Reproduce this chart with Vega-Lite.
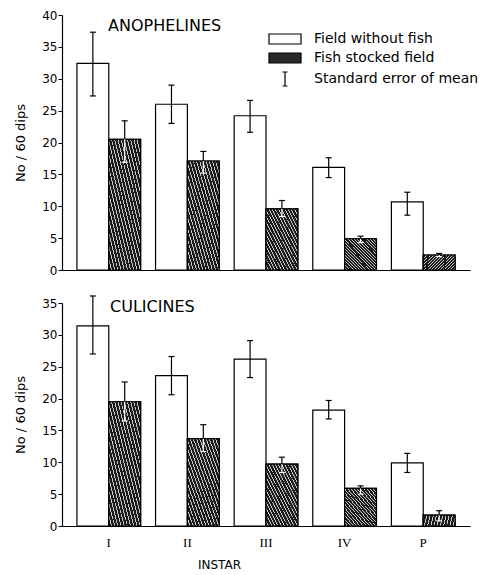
{
  "$schema": "https://vega.github.io/schema/vega-lite/v6.json",
  "background": "white",
  "padding": {"left": 14, "top": 9, "right": 0, "bottom": 0},
  "config": {
    "view": {"stroke": null},
    "font": "DejaVu Sans",
    "axis": {"domainColor": "black", "tickColor": "black", "labelColor": "black", "titleColor": "black", "grid": false, "labelOverlap": false},
    "title": {"color": "black"}
  },
  "datasets": {
    "anoph": [
      {"stage": "I", "series": "Field without fish", "mean": 32.4, "lo": 27.3, "hi": 37.3},
      {"stage": "I", "series": "Fish stocked field", "mean": 20.5, "lo": 16.9, "hi": 23.4},
      {"stage": "II", "series": "Field without fish", "mean": 26.0, "lo": 23.0, "hi": 29.0},
      {"stage": "II", "series": "Fish stocked field", "mean": 17.1, "lo": 15.2, "hi": 18.6},
      {"stage": "III", "series": "Field without fish", "mean": 24.2, "lo": 21.6, "hi": 26.6},
      {"stage": "III", "series": "Fish stocked field", "mean": 9.6, "lo": 8.4, "hi": 10.9},
      {"stage": "IV", "series": "Field without fish", "mean": 16.1, "lo": 14.5, "hi": 17.6},
      {"stage": "IV", "series": "Fish stocked field", "mean": 4.9, "lo": 4.3, "hi": 5.3},
      {"stage": "P", "series": "Field without fish", "mean": 10.7, "lo": 8.6, "hi": 12.2},
      {"stage": "P", "series": "Fish stocked field", "mean": 2.35, "lo": 2.1, "hi": 2.6}
    ],
    "culic": [
      {"stage": "I", "series": "Field without fish", "mean": 31.4, "lo": 27.0, "hi": 36.1},
      {"stage": "I", "series": "Fish stocked field", "mean": 19.5, "lo": 16.5, "hi": 22.6},
      {"stage": "II", "series": "Field without fish", "mean": 23.6, "lo": 20.6, "hi": 26.6},
      {"stage": "II", "series": "Fish stocked field", "mean": 13.7, "lo": 11.7, "hi": 15.9},
      {"stage": "III", "series": "Field without fish", "mean": 26.2, "lo": 23.3, "hi": 29.1},
      {"stage": "III", "series": "Fish stocked field", "mean": 9.7, "lo": 8.4, "hi": 10.8},
      {"stage": "IV", "series": "Field without fish", "mean": 18.2, "lo": 16.8, "hi": 19.7},
      {"stage": "IV", "series": "Fish stocked field", "mean": 5.9, "lo": 5.0, "hi": 6.3},
      {"stage": "P", "series": "Field without fish", "mean": 9.9, "lo": 8.4, "hi": 11.4},
      {"stage": "P", "series": "Fish stocked field", "mean": 1.7, "lo": 0.8, "hi": 2.4}
    ]
  },
  "spacing": 19,
  "resolve": {"scale": {"y": "independent", "fill": "independent"}, "legend": {"fill": "independent"}},
  "vconcat": [
    {
      "width": 408,
      "height": 255,
      "data": {"name": "anoph"},
      "title": {"text": "ANOPHELINES", "anchor": "start", "frame": "group", "fontSize": 16, "fontWeight": "normal", "font": "DejaVu Sans", "dx": 46, "dy": 33, "baseline": "middle", "offset": 0},
      "encoding": {
        "x": {"field": "stage", "type": "nominal", "sort": ["I", "II", "III", "IV", "P"], "scale": {"paddingInner": 0.19, "paddingOuter": 0.19}, "axis": {"labels": false, "ticks": false, "title": null, "domainWidth": 1.2}},
        "xOffset": {"field": "series", "type": "nominal", "scale": {"domain": ["Field without fish", "Fish stocked field"], "paddingInner": 0, "paddingOuter": 0}}
      },
      "layer": [
        {
          "mark": {"type": "bar", "stroke": "black", "strokeWidth": 1.2},
          "encoding": {
            "y": {"field": "mean", "type": "quantitative", "scale": {"domain": [0, 40], "nice": false}, "axis": {"values": [0, 5, 10, 15, 20, 25, 30, 35, 40], "tickCount": 9, "title": "No / 60 dips", "titleFontSize": 13, "titleFontWeight": "normal", "titlePadding": 14, "labelFontSize": 12, "tickSize": 4, "labelPadding": 1, "domainWidth": 1.2}},
            "fill": {
              "field": "series", "type": "nominal",
              "scale": {"domain": ["Field without fish", "Fish stocked field", "Standard error of mean"], "range": ["white", "#2a2a2a", "black"]},
              "legend": {
                "title": null, "orient": "none", "legendX": 216, "legendY": 17, "padding": 0,
                "labelFontSize": 14, "labelFont": "DejaVu Sans", "labelColor": "black", "labelOffset": 22, "labelLimit": 400,
                "symbolSize": 100, "symbolStrokeColor": "black", "symbolStrokeWidth": 1.2, "rowPadding": 3,
                "encode": {"symbols": {"update": {"shape": {"signal": "datum.value === 'Standard error of mean' ? 'M0,-1.4V1.4M-0.5,-1.4H0.5M-0.5,1.4H0.5' : 'M-3.2,-1H3.2V1H-3.2Z'"}}}}
              }
            }
          }
        },
        {
          "transform": [{"filter": "datum.series === 'Fish stocked field'"}],
          "mark": {"type": "bar", "stroke": "black", "strokeWidth": 1.2, "fill": {"gradient": "linear", "x1": 0, "y1": 1, "x2": 1, "y2": 0, "stops": [
            {"offset": 0, "color": "#1a1a1a"}, {"offset": 0.035, "color": "#1a1a1a"}, {"offset": 0.035, "color": "#c8c8c8"}, {"offset": 0.05, "color": "#c8c8c8"},
            {"offset": 0.05, "color": "#1a1a1a"}, {"offset": 0.085, "color": "#1a1a1a"}, {"offset": 0.085, "color": "#c8c8c8"}, {"offset": 0.1, "color": "#c8c8c8"},
            {"offset": 0.1, "color": "#1a1a1a"}, {"offset": 0.135, "color": "#1a1a1a"}, {"offset": 0.135, "color": "#c8c8c8"}, {"offset": 0.15, "color": "#c8c8c8"},
            {"offset": 0.15, "color": "#1a1a1a"}, {"offset": 0.185, "color": "#1a1a1a"}, {"offset": 0.185, "color": "#c8c8c8"}, {"offset": 0.2, "color": "#c8c8c8"},
            {"offset": 0.2, "color": "#1a1a1a"}, {"offset": 0.235, "color": "#1a1a1a"}, {"offset": 0.235, "color": "#c8c8c8"}, {"offset": 0.25, "color": "#c8c8c8"},
            {"offset": 0.25, "color": "#1a1a1a"}, {"offset": 0.285, "color": "#1a1a1a"}, {"offset": 0.285, "color": "#c8c8c8"}, {"offset": 0.3, "color": "#c8c8c8"},
            {"offset": 0.3, "color": "#1a1a1a"}, {"offset": 0.335, "color": "#1a1a1a"}, {"offset": 0.335, "color": "#c8c8c8"}, {"offset": 0.35, "color": "#c8c8c8"},
            {"offset": 0.35, "color": "#1a1a1a"}, {"offset": 0.385, "color": "#1a1a1a"}, {"offset": 0.385, "color": "#c8c8c8"}, {"offset": 0.4, "color": "#c8c8c8"},
            {"offset": 0.4, "color": "#1a1a1a"}, {"offset": 0.435, "color": "#1a1a1a"}, {"offset": 0.435, "color": "#c8c8c8"}, {"offset": 0.45, "color": "#c8c8c8"},
            {"offset": 0.45, "color": "#1a1a1a"}, {"offset": 0.485, "color": "#1a1a1a"}, {"offset": 0.485, "color": "#c8c8c8"}, {"offset": 0.5, "color": "#c8c8c8"},
            {"offset": 0.5, "color": "#1a1a1a"}, {"offset": 0.535, "color": "#1a1a1a"}, {"offset": 0.535, "color": "#c8c8c8"}, {"offset": 0.55, "color": "#c8c8c8"},
            {"offset": 0.55, "color": "#1a1a1a"}, {"offset": 0.585, "color": "#1a1a1a"}, {"offset": 0.585, "color": "#c8c8c8"}, {"offset": 0.6, "color": "#c8c8c8"},
            {"offset": 0.6, "color": "#1a1a1a"}, {"offset": 0.635, "color": "#1a1a1a"}, {"offset": 0.635, "color": "#c8c8c8"}, {"offset": 0.65, "color": "#c8c8c8"},
            {"offset": 0.65, "color": "#1a1a1a"}, {"offset": 0.685, "color": "#1a1a1a"}, {"offset": 0.685, "color": "#c8c8c8"}, {"offset": 0.7, "color": "#c8c8c8"},
            {"offset": 0.7, "color": "#1a1a1a"}, {"offset": 0.735, "color": "#1a1a1a"}, {"offset": 0.735, "color": "#c8c8c8"}, {"offset": 0.75, "color": "#c8c8c8"},
            {"offset": 0.75, "color": "#1a1a1a"}, {"offset": 0.785, "color": "#1a1a1a"}, {"offset": 0.785, "color": "#c8c8c8"}, {"offset": 0.8, "color": "#c8c8c8"},
            {"offset": 0.8, "color": "#1a1a1a"}, {"offset": 0.835, "color": "#1a1a1a"}, {"offset": 0.835, "color": "#c8c8c8"}, {"offset": 0.85, "color": "#c8c8c8"},
            {"offset": 0.85, "color": "#1a1a1a"}, {"offset": 0.885, "color": "#1a1a1a"}, {"offset": 0.885, "color": "#c8c8c8"}, {"offset": 0.9, "color": "#c8c8c8"},
            {"offset": 0.9, "color": "#1a1a1a"}, {"offset": 0.935, "color": "#1a1a1a"}, {"offset": 0.935, "color": "#c8c8c8"}, {"offset": 0.95, "color": "#c8c8c8"},
            {"offset": 0.95, "color": "#1a1a1a"}, {"offset": 0.985, "color": "#1a1a1a"}, {"offset": 0.985, "color": "#c8c8c8"}, {"offset": 1, "color": "#c8c8c8"}
          ]}},
          "encoding": {"y": {"field": "mean", "type": "quantitative", "axis": {"values": [0, 5, 10, 15, 20, 25, 30, 35, 40], "tickCount": 9, "title": "No / 60 dips", "titleFontSize": 13, "titleFontWeight": "normal", "titlePadding": 14, "labelFontSize": 12, "tickSize": 4, "labelPadding": 1, "domainWidth": 1.2}}}
        },
        {
          "mark": {"type": "rule", "stroke": "black", "strokeWidth": 1.2},
          "encoding": {"y": {"field": "mean", "type": "quantitative", "axis": {"values": [0, 5, 10, 15, 20, 25, 30, 35, 40], "tickCount": 9, "title": "No / 60 dips", "titleFontSize": 13, "titleFontWeight": "normal", "titlePadding": 14, "labelFontSize": 12, "tickSize": 4, "labelPadding": 1, "domainWidth": 1.2}}, "y2": {"field": "hi"}}
        },
        {
          "mark": {"type": "rule", "strokeWidth": 1.2},
          "encoding": {"y": {"field": "lo", "type": "quantitative", "axis": {"values": [0, 5, 10, 15, 20, 25, 30, 35, 40], "tickCount": 9, "title": "No / 60 dips", "titleFontSize": 13, "titleFontWeight": "normal", "titlePadding": 14, "labelFontSize": 12, "tickSize": 4, "labelPadding": 1, "domainWidth": 1.2}}, "y2": {"field": "mean"}, "stroke": {"condition": {"test": "datum.series === 'Fish stocked field'", "value": "white"}, "value": "black"}}
        },
        {
          "mark": {"type": "tick", "color": "black", "size": 6, "thickness": 1.2, "opacity": 1},
          "encoding": {"y": {"field": "hi", "type": "quantitative", "axis": {"values": [0, 5, 10, 15, 20, 25, 30, 35, 40], "tickCount": 9, "title": "No / 60 dips", "titleFontSize": 13, "titleFontWeight": "normal", "titlePadding": 14, "labelFontSize": 12, "tickSize": 4, "labelPadding": 1, "domainWidth": 1.2}}}
        },
        {
          "mark": {"type": "tick", "size": 6, "thickness": 1.2, "opacity": 1},
          "encoding": {"y": {"field": "lo", "type": "quantitative", "axis": {"values": [0, 5, 10, 15, 20, 25, 30, 35, 40], "tickCount": 9, "title": "No / 60 dips", "titleFontSize": 13, "titleFontWeight": "normal", "titlePadding": 14, "labelFontSize": 12, "tickSize": 4, "labelPadding": 1, "domainWidth": 1.2}}, "color": {"condition": {"test": "datum.series === 'Fish stocked field'", "value": "white"}, "value": "black"}}
        }
      ]
    },
    {
      "width": 408,
      "height": 223,
      "data": {"name": "culic"},
      "title": {"text": "CULICINES", "anchor": "start", "frame": "group", "fontSize": 16, "fontWeight": "normal", "font": "DejaVu Sans", "dx": 48, "dy": 28, "baseline": "middle", "offset": 0},
      "encoding": {
        "x": {"field": "stage", "type": "nominal", "sort": ["I", "II", "III", "IV", "P"], "scale": {"paddingInner": 0.19, "paddingOuter": 0.19}, "axis": {"labels": true, "ticks": false, "title": "INSTAR", "labelAngle": 0, "labelFont": "Liberation Serif", "labelFontSize": 13, "labelPadding": 10, "titleFont": "DejaVu Sans", "titleFontSize": 12, "titleFontWeight": "normal", "titleX": 157, "titleAnchor": "middle", "titlePadding": 10, "domainWidth": 1.2}},
        "xOffset": {"field": "series", "type": "nominal", "scale": {"domain": ["Field without fish", "Fish stocked field"], "paddingInner": 0, "paddingOuter": 0}}
      },
      "layer": [
        {
          "mark": {"type": "bar", "stroke": "black", "strokeWidth": 1.2},
          "encoding": {
            "y": {"field": "mean", "type": "quantitative", "scale": {"domain": [0, 35], "nice": false}, "axis": {"values": [0, 5, 10, 15, 20, 25, 30, 35], "tickCount": 8, "title": "No / 60 dips", "titleFontSize": 13, "titleFontWeight": "normal", "titlePadding": 14, "labelFontSize": 12, "tickSize": 4, "labelPadding": 1, "domainWidth": 1.2}},
            "fill": {
              "field": "series", "type": "nominal",
              "scale": {"domain": ["Field without fish", "Fish stocked field", "Standard error of mean"], "range": ["white", "#2a2a2a", "black"]},
              "legend": null
            }
          }
        },
        {
          "transform": [{"filter": "datum.series === 'Fish stocked field'"}],
          "mark": {"type": "bar", "stroke": "black", "strokeWidth": 1.2, "fill": {"gradient": "linear", "x1": 0, "y1": 1, "x2": 1, "y2": 0, "stops": [
            {"offset": 0, "color": "#1a1a1a"}, {"offset": 0.035, "color": "#1a1a1a"}, {"offset": 0.035, "color": "#c8c8c8"}, {"offset": 0.05, "color": "#c8c8c8"},
            {"offset": 0.05, "color": "#1a1a1a"}, {"offset": 0.085, "color": "#1a1a1a"}, {"offset": 0.085, "color": "#c8c8c8"}, {"offset": 0.1, "color": "#c8c8c8"},
            {"offset": 0.1, "color": "#1a1a1a"}, {"offset": 0.135, "color": "#1a1a1a"}, {"offset": 0.135, "color": "#c8c8c8"}, {"offset": 0.15, "color": "#c8c8c8"},
            {"offset": 0.15, "color": "#1a1a1a"}, {"offset": 0.185, "color": "#1a1a1a"}, {"offset": 0.185, "color": "#c8c8c8"}, {"offset": 0.2, "color": "#c8c8c8"},
            {"offset": 0.2, "color": "#1a1a1a"}, {"offset": 0.235, "color": "#1a1a1a"}, {"offset": 0.235, "color": "#c8c8c8"}, {"offset": 0.25, "color": "#c8c8c8"},
            {"offset": 0.25, "color": "#1a1a1a"}, {"offset": 0.285, "color": "#1a1a1a"}, {"offset": 0.285, "color": "#c8c8c8"}, {"offset": 0.3, "color": "#c8c8c8"},
            {"offset": 0.3, "color": "#1a1a1a"}, {"offset": 0.335, "color": "#1a1a1a"}, {"offset": 0.335, "color": "#c8c8c8"}, {"offset": 0.35, "color": "#c8c8c8"},
            {"offset": 0.35, "color": "#1a1a1a"}, {"offset": 0.385, "color": "#1a1a1a"}, {"offset": 0.385, "color": "#c8c8c8"}, {"offset": 0.4, "color": "#c8c8c8"},
            {"offset": 0.4, "color": "#1a1a1a"}, {"offset": 0.435, "color": "#1a1a1a"}, {"offset": 0.435, "color": "#c8c8c8"}, {"offset": 0.45, "color": "#c8c8c8"},
            {"offset": 0.45, "color": "#1a1a1a"}, {"offset": 0.485, "color": "#1a1a1a"}, {"offset": 0.485, "color": "#c8c8c8"}, {"offset": 0.5, "color": "#c8c8c8"},
            {"offset": 0.5, "color": "#1a1a1a"}, {"offset": 0.535, "color": "#1a1a1a"}, {"offset": 0.535, "color": "#c8c8c8"}, {"offset": 0.55, "color": "#c8c8c8"},
            {"offset": 0.55, "color": "#1a1a1a"}, {"offset": 0.585, "color": "#1a1a1a"}, {"offset": 0.585, "color": "#c8c8c8"}, {"offset": 0.6, "color": "#c8c8c8"},
            {"offset": 0.6, "color": "#1a1a1a"}, {"offset": 0.635, "color": "#1a1a1a"}, {"offset": 0.635, "color": "#c8c8c8"}, {"offset": 0.65, "color": "#c8c8c8"},
            {"offset": 0.65, "color": "#1a1a1a"}, {"offset": 0.685, "color": "#1a1a1a"}, {"offset": 0.685, "color": "#c8c8c8"}, {"offset": 0.7, "color": "#c8c8c8"},
            {"offset": 0.7, "color": "#1a1a1a"}, {"offset": 0.735, "color": "#1a1a1a"}, {"offset": 0.735, "color": "#c8c8c8"}, {"offset": 0.75, "color": "#c8c8c8"},
            {"offset": 0.75, "color": "#1a1a1a"}, {"offset": 0.785, "color": "#1a1a1a"}, {"offset": 0.785, "color": "#c8c8c8"}, {"offset": 0.8, "color": "#c8c8c8"},
            {"offset": 0.8, "color": "#1a1a1a"}, {"offset": 0.835, "color": "#1a1a1a"}, {"offset": 0.835, "color": "#c8c8c8"}, {"offset": 0.85, "color": "#c8c8c8"},
            {"offset": 0.85, "color": "#1a1a1a"}, {"offset": 0.885, "color": "#1a1a1a"}, {"offset": 0.885, "color": "#c8c8c8"}, {"offset": 0.9, "color": "#c8c8c8"},
            {"offset": 0.9, "color": "#1a1a1a"}, {"offset": 0.935, "color": "#1a1a1a"}, {"offset": 0.935, "color": "#c8c8c8"}, {"offset": 0.95, "color": "#c8c8c8"},
            {"offset": 0.95, "color": "#1a1a1a"}, {"offset": 0.985, "color": "#1a1a1a"}, {"offset": 0.985, "color": "#c8c8c8"}, {"offset": 1, "color": "#c8c8c8"}
          ]}},
          "encoding": {"y": {"field": "mean", "type": "quantitative", "axis": {"values": [0, 5, 10, 15, 20, 25, 30, 35], "tickCount": 8, "title": "No / 60 dips", "titleFontSize": 13, "titleFontWeight": "normal", "titlePadding": 14, "labelFontSize": 12, "tickSize": 4, "labelPadding": 1, "domainWidth": 1.2}}}
        },
        {
          "mark": {"type": "rule", "stroke": "black", "strokeWidth": 1.2},
          "encoding": {"y": {"field": "mean", "type": "quantitative", "axis": {"values": [0, 5, 10, 15, 20, 25, 30, 35], "tickCount": 8, "title": "No / 60 dips", "titleFontSize": 13, "titleFontWeight": "normal", "titlePadding": 14, "labelFontSize": 12, "tickSize": 4, "labelPadding": 1, "domainWidth": 1.2}}, "y2": {"field": "hi"}}
        },
        {
          "mark": {"type": "rule", "strokeWidth": 1.2},
          "encoding": {"y": {"field": "lo", "type": "quantitative", "axis": {"values": [0, 5, 10, 15, 20, 25, 30, 35], "tickCount": 8, "title": "No / 60 dips", "titleFontSize": 13, "titleFontWeight": "normal", "titlePadding": 14, "labelFontSize": 12, "tickSize": 4, "labelPadding": 1, "domainWidth": 1.2}}, "y2": {"field": "mean"}, "stroke": {"condition": {"test": "datum.series === 'Fish stocked field'", "value": "white"}, "value": "black"}}
        },
        {
          "mark": {"type": "tick", "color": "black", "size": 6, "thickness": 1.2, "opacity": 1},
          "encoding": {"y": {"field": "hi", "type": "quantitative", "axis": {"values": [0, 5, 10, 15, 20, 25, 30, 35], "tickCount": 8, "title": "No / 60 dips", "titleFontSize": 13, "titleFontWeight": "normal", "titlePadding": 14, "labelFontSize": 12, "tickSize": 4, "labelPadding": 1, "domainWidth": 1.2}}}
        },
        {
          "mark": {"type": "tick", "size": 6, "thickness": 1.2, "opacity": 1},
          "encoding": {"y": {"field": "lo", "type": "quantitative", "axis": {"values": [0, 5, 10, 15, 20, 25, 30, 35], "tickCount": 8, "title": "No / 60 dips", "titleFontSize": 13, "titleFontWeight": "normal", "titlePadding": 14, "labelFontSize": 12, "tickSize": 4, "labelPadding": 1, "domainWidth": 1.2}}, "color": {"condition": {"test": "datum.series === 'Fish stocked field'", "value": "white"}, "value": "black"}}
        }
      ]
    }
  ]
}
